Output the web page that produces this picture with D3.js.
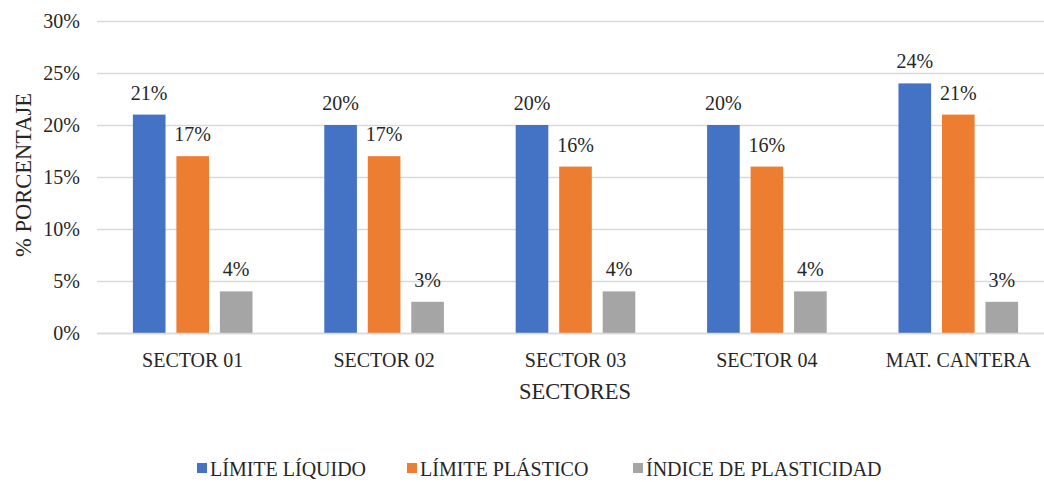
<!DOCTYPE html>
<html>
<head>
<meta charset="utf-8">
<script src="https://cdn.jsdelivr.net/npm/d3@7"></script>
<style>
  html, body { margin: 0; padding: 0; background: #fff; }
  svg text { font-family: "Liberation Serif", "Times New Roman", serif; fill: #262626; }
</style>
</head>
<body>
<div id="plot"></div>
<script>
var categories = ["SECTOR 01", "SECTOR 02", "SECTOR 03", "SECTOR 04", "MAT. CANTERA"];
var series_names = ["LÍMITE LÍQUIDO", "LÍMITE PLÁSTICO", "ÍNDICE DE PLASTICIDAD"];
var limite_liquido = [0.21, 0.20, 0.20, 0.20, 0.24];
var limite_plastico = [0.17, 0.17, 0.16, 0.16, 0.21];
var indice_plasticidad = [0.04, 0.03, 0.04, 0.04, 0.03];
var y_ticks = [0, 0.05, 0.10, 0.15, 0.20, 0.25, 0.30];
var colors = ["#4472c4", "#ed7d31", "#a5a5a5"];

var W = 1044, H = 482;
// plot_top: "top" is reserved by window.
var plot_left = 97, plot_right = 1054, plot_top = 21, plot_bottom = 333;
var font_size = 20, title_size = 22.5;

var svg = d3.select("div#plot")
    .append("svg")
        .attr("width", W)
        .attr("height", H)
        .attr("viewBox", "0 0 " + W + " " + H);

var x_scale = d3.scaleBand()
    .domain(categories)
    .range([plot_left, plot_right])
    .paddingInner(0.375)
    .paddingOuter(0.1875);

var x_inner = d3.scaleBand()
    .domain([0, 1, 2])
    .range([0, x_scale.bandwidth()])
    .paddingInner(0.25);

var y_scale = d3.scaleLinear()
    .domain([0, 0.30])
    .range([plot_bottom, plot_top]);

// Gridlines and y labels.
var y_axis = d3.axisLeft(y_scale)
    .tickValues(y_ticks)
    .tickFormat(d3.format(".0%"))
    .tickSize(-(plot_right - plot_left))
    .tickPadding(17);

var g_y = svg.append("g")
    .attr("transform", "translate(" + plot_left + ",0)")
    .call(y_axis);
g_y.select(".domain").remove();
g_y.selectAll(".tick line").attr("stroke", "#d9d9d9").attr("stroke-width", 1.3);
g_y.selectAll(".tick text")
    .attr("font-size", font_size)
    .attr("font-family", "Liberation Serif")
    .attr("fill", "#404040");

// Bars.
var data = [limite_liquido, limite_plastico, indice_plasticidad];
data.forEach(function(values, s) {
    var g = svg.append("g");
    g.selectAll("rect")
        .data(values)
        .join("rect")
            .attr("x", function(d, i) { return x_scale(categories[i]) + x_inner(s); })
            .attr("y", function(d) { return y_scale(d); })
            .attr("width", x_inner.bandwidth())
            .attr("height", function(d) { return y_scale(0) - y_scale(d); })
            .attr("fill", colors[s]);
    g.selectAll("text")
        .data(values)
        .join("text")
            .attr("x", function(d, i) { return x_scale(categories[i]) + x_inner(s) + x_inner.bandwidth() / 2; })
            .attr("y", function(d) { return y_scale(d) - 15; })
            .attr("text-anchor", "middle")
            .attr("font-size", font_size)
            .text(d3.format(".0%"));
});

// X axis.
var x_axis = d3.axisBottom(x_scale).tickSize(0).tickPadding(20);
var g_x = svg.append("g")
    .attr("transform", "translate(0," + plot_bottom + ")")
    .call(x_axis);
g_x.select(".domain").attr("stroke", "#d9d9d9").attr("stroke-width", 1.3);
g_x.selectAll(".tick text")
    .attr("font-size", font_size)
    .attr("font-family", "Liberation Serif")
    .attr("fill", "#404040");

// Axis titles.
svg.append("text")
    .attr("x", 575)
    .attr("y", 399)
    .attr("text-anchor", "middle")
    .attr("font-size", title_size)
    .text("SECTORES");

svg.append("text")
    .attr("transform", "translate(31,175) rotate(-90)")
    .attr("text-anchor", "middle")
    .attr("font-size", title_size)
    .text("% PORCENTAJE");

// Legend.
var legend_x = [197, 407, 633];
var legend = svg.append("g").selectAll("g")
    .data(series_names)
    .join("g")
        .attr("transform", function(d, i) { return "translate(" + legend_x[i] + ",476)"; });
legend.append("rect")
    .attr("y", -13)
    .attr("width", 10)
    .attr("height", 10)
    .attr("fill", function(d, i) { return colors[i]; });
legend.append("text")
    .attr("x", 13)
    .attr("font-size", font_size)
    .text(function(d) { return d; });
</script>
</body>
</html>
